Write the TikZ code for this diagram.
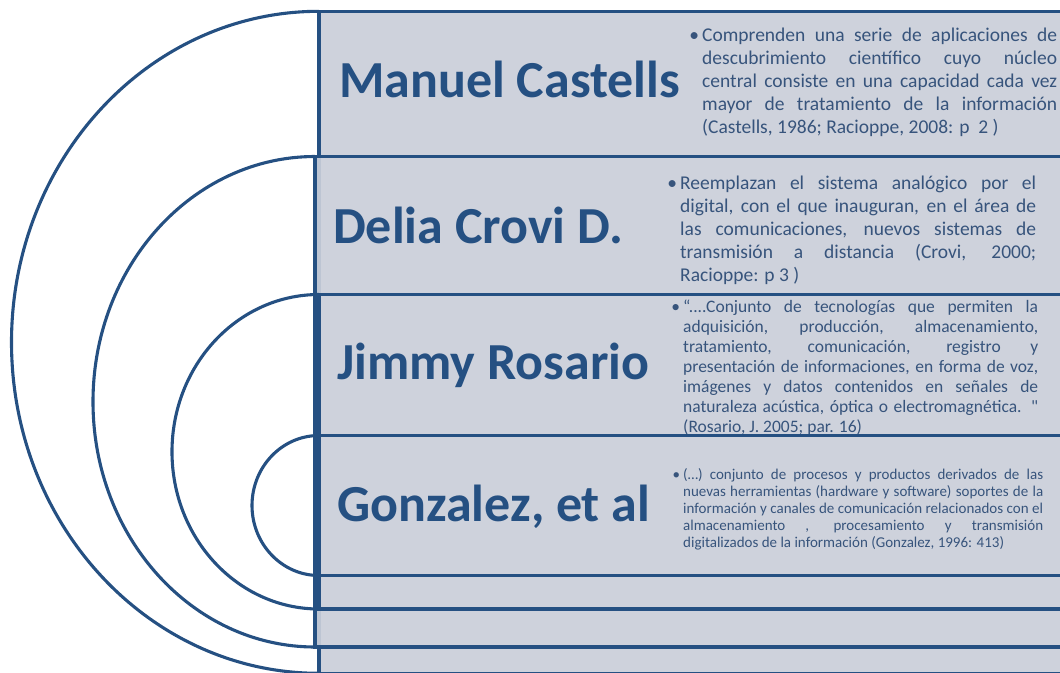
\documentclass[tikz,border=0pt]{standalone}
\usepackage{fontspec}
\setmainfont{Carlito}
\definecolor{navy}{RGB}{37,80,130}
\definecolor{panel}{RGB}{206,210,220}
\definecolor{txt}{RGB}{55,84,124}
\newcommand{\jl}[1]{\hbox to\linewidth{#1}}
\newcommand{\bul}{\llap{\textbullet\kern3pt}}
\newcommand{\straightq}{{\addfontfeatures{Ligatures=TeXOff}"}}
\begin{document}
\begin{tikzpicture}[x=1pt,y=-1pt,
  panelbox/.style={anchor=north west,inner sep=0pt,outer sep=0pt,fill=panel,draw=navy,line width=3.3pt,minimum width=780pt},
  ring/.style={draw=navy,line width=3.1pt},
  who/.style={anchor=base west,inner sep=0pt,text=navy,font=\fontsize{52}{60}\selectfont\bfseries},
  desc/.style={anchor=base west,inner sep=0pt,text=txt},
]
\useasboundingbox (0,0) rectangle (1060,672);
\clip (0,0) rectangle (1060,672);

% layer 1
\node[panelbox,minimum height=662pt] (p1) at (319,11.3) {};
\draw[ring] (p1.north west) arc[start angle=270,end angle=90,x radius=307.5,y radius=331];
\node[who] (n1) at (339,97) {Manuel Castells};
\node[desc] (d1) at (702,41) {\begin{minipage}[t]{355pt}\fontsize{19.5}{23}\selectfont
\jl{\bul Comprenden una serie de aplicaciones de}
\jl{descubrimiento científico cuyo núcleo}
\jl{central consiste en una capacidad cada vez}
\jl{mayor de tratamiento de la información}
\hbox{(Castells, 1986; Racioppe, 2008: p\ \ 2 )}
\end{minipage}};

% layer 2
\node[panelbox,fill opacity=0.9,minimum height=490.5pt] (p2) at (315,156.5) {};
\draw[ring] (p2.north west) arc[start angle=270,end angle=90,x radius=222,y radius=245.25];
\node[who] (n2) at (333,243) {Delia Crovi D.};
\node[desc] (d2) at (680,189.5) {\begin{minipage}[t]{356pt}\fontsize{19.5}{23}\selectfont
\jl{\bul Reemplazan el sistema analógico por el}
\jl{digital, con el que inauguran, en el área de}
\jl{las comunicaciones, nuevos sistemas de}
\jl{transmisión a distancia (Crovi, 2000;}
\hbox{Racioppe: p 3 )}
\end{minipage}};

% layer 3
\node[panelbox,minimum height=314.5pt] (p3) at (319,294.5) {};
\draw[ring] (p3.north west) arc[start angle=270,end angle=90,x radius=147,y radius=157.25];
\node[who] (n3) at (337,379) {Jimmy Rosario};
\node[desc] (d3) at (683,312) {\begin{minipage}[t]{355pt}\fontsize{17.5}{20}\selectfont
\jl{\bul “....Conjunto de tecnologías que permiten la}
\jl{adquisición, producción, almacenamiento,}
\jl{tratamiento, comunicación, registro y}
\jl{presentación de informaciones, en forma de voz,}
\jl{imágenes y datos contenidos en señales de}
\jl{naturaleza acústica, óptica o electromagnética. \straightq}
\hbox{(Rosario, J. 2005; par. 16)}
\end{minipage}};

% layer 4
\node[panelbox,minimum height=140pt] (p4) at (319,435.5) {};
\draw[ring] (p4.north west) arc[start angle=270,end angle=90,x radius=67,y radius=70];
\node[who] (n4) at (337,521) {Gonzalez, et al};
\node[desc] (d4) at (683,479) {\begin{minipage}[t]{360pt}\fontsize{15}{17.2}\selectfont
\jl{\bul (…) conjunto de procesos y productos derivados de las}
\jl{nuevas herramientas (hardware y software) soportes de la}
\jl{información y canales de comunicación relacionados con el}
\jl{almacenamiento , procesamiento y transmisión}
\hbox{digitalizados de la información (Gonzalez, 1996: 413)}
\end{minipage}};
\end{tikzpicture}
\end{document}
